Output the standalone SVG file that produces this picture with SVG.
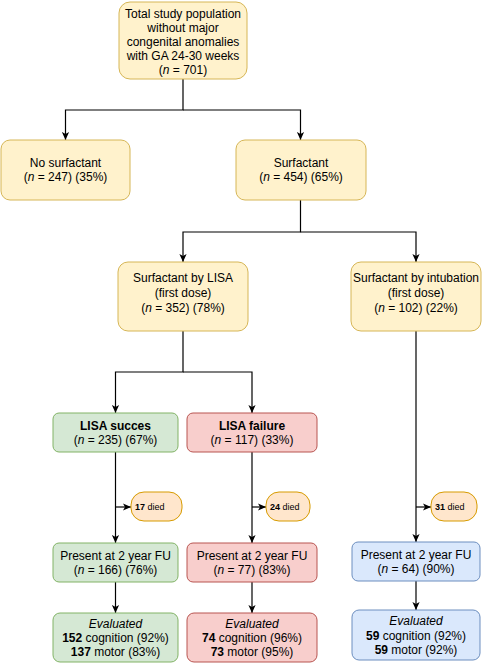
<svg xmlns="http://www.w3.org/2000/svg" width="482" height="670" viewBox="0 0 482 670">
<defs>
<style>
.y{fill:#fff2cc;stroke:#d6b656;stroke-width:1}
.g{fill:#d5e8d4;stroke:#82b366;stroke-width:1}
.r{fill:#f8cecc;stroke:#b85450;stroke-width:1}
.b{fill:#dae8fc;stroke:#6c8ebf;stroke-width:1}
.o{fill:#ffe6cc;stroke:#d79b00;stroke-width:1}
text{font-family:"Liberation Sans",Arial,Helvetica,sans-serif;font-size:12px;fill:#000;text-anchor:middle}
.s{font-size:9px;text-anchor:start}
.i{font-style:italic}
.bd{font-weight:bold}
.c{fill:none;stroke:#000;stroke-width:1.2}
</style>
<marker id="a" viewBox="0 0 10 10" refX="10" refY="5" markerWidth="8" markerHeight="8" orient="auto" markerUnits="userSpaceOnUse">
<path d="M0,0.5 L10,5 L0,9.5 L2.5,5 z" fill="#000"/>
</marker>
</defs>
<g id="connectors">
<path class="c" d="M183 79 V110 H65.5 V140" marker-end="url(#a)"/>
<path class="c" d="M183 110 H300.5 V140" marker-end="url(#a)"/>
<path class="c" d="M300.5 200 V232 H183 V262" marker-end="url(#a)"/>
<path class="c" d="M300.5 232 H416 V262" marker-end="url(#a)"/>
<path class="c" d="M183 331 V372 H115.5 V413" marker-end="url(#a)"/>
<path class="c" d="M183 372 H252 V413" marker-end="url(#a)"/>
<path class="c" d="M115.5 452 V543" marker-end="url(#a)"/>
<path class="c" d="M115.5 507 H131" marker-end="url(#a)"/>
<path class="c" d="M252 452 V543" marker-end="url(#a)"/>
<path class="c" d="M252 507 H266" marker-end="url(#a)"/>
<path class="c" d="M416 331 V542" marker-end="url(#a)"/>
<path class="c" d="M416 507 H431" marker-end="url(#a)"/>
<path class="c" d="M115.5 582 V613" marker-end="url(#a)"/>
<path class="c" d="M252 582 V613" marker-end="url(#a)"/>
<path class="c" d="M416 581 V610" marker-end="url(#a)"/>
</g>
<g id="total">
<rect class="y" x="119" y="2" width="128" height="77" rx="11"/>
<text x="183" y="17.5">Total study population</text>
<text x="183" y="31.5">without major</text>
<text x="183" y="45.5">congenital anomalies</text>
<text x="183" y="59.5">with GA 24-30 weeks</text>
<text x="183" y="73.5">(<tspan class="i">n</tspan> = 701)</text>
</g>
<g id="nosurf">
<rect class="y" x="1" y="140" width="129" height="60" rx="9"/>
<text x="65.5" y="167">No surfactant</text>
<text x="65.5" y="181">(<tspan class="i">n</tspan> = 247) (35%)</text>
</g>
<g id="surf">
<rect class="y" x="236" y="140" width="130" height="60" rx="9"/>
<text x="301" y="167">Surfactant</text>
<text x="301" y="181">(<tspan class="i">n</tspan> = 454) (65%)</text>
</g>
<g id="lisa">
<rect class="y" x="118" y="262" width="130" height="69" rx="10"/>
<text x="183" y="282">Surfactant by LISA</text>
<text x="183" y="297">(first dose)</text>
<text x="183" y="312">(<tspan class="i">n</tspan> = 352) (78%)</text>
</g>
<g id="intub">
<rect class="y" x="351" y="262" width="130" height="69" rx="10"/>
<text x="416" y="282">Surfactant by intubation</text>
<text x="416" y="297">(first dose)</text>
<text x="416" y="312">(<tspan class="i">n</tspan> = 102) (22%)</text>
</g>
<g id="lisasucc">
<rect class="g" x="53" y="413" width="125" height="39" rx="6"/>
<text x="115.5" y="429.5" class="bd">LISA succes</text>
<text x="115.5" y="444">(<tspan class="i">n</tspan> = 235) (67%)</text>
</g>
<g id="lisafail">
<rect class="r" x="187" y="413" width="130" height="39" rx="6"/>
<text x="252" y="429.5" class="bd">LISA failure</text>
<text x="252" y="444">(<tspan class="i">n</tspan> = 117) (33%)</text>
</g>
<g id="died17">
<rect class="o" x="131" y="492" width="51" height="29" rx="13"/>
<text x="135" y="510" class="s"><tspan class="bd">17</tspan> died</text>
</g>
<g id="died24">
<rect class="o" x="266" y="492" width="44" height="29" rx="13"/>
<text x="270" y="510" class="s"><tspan class="bd">24</tspan> died</text>
</g>
<g id="died31">
<rect class="o" x="431" y="492" width="46" height="29" rx="13"/>
<text x="435" y="510" class="s"><tspan class="bd">31</tspan> died</text>
</g>
<g id="presg">
<rect class="g" x="53" y="543" width="125" height="39" rx="6"/>
<text x="115.5" y="559.5">Present at 2 year FU</text>
<text x="115.5" y="574">(<tspan class="i">n</tspan> = 166) (76%)</text>
</g>
<g id="presr">
<rect class="r" x="187" y="543" width="130" height="39" rx="6"/>
<text x="252" y="559.5">Present at 2 year FU</text>
<text x="252" y="574">(<tspan class="i">n</tspan> = 77) (83%)</text>
</g>
<g id="presb">
<rect class="b" x="352" y="542" width="128" height="39" rx="6"/>
<text x="416" y="558.5">Present at 2 year FU</text>
<text x="416" y="573">(<tspan class="i">n</tspan> = 64) (90%)</text>
</g>
<g id="evalg">
<rect class="g" x="53" y="613" width="125" height="49" rx="7"/>
<text x="115.5" y="627.5" class="i">Evaluated</text>
<text x="115.5" y="642"><tspan class="bd">152</tspan> cognition (92%)</text>
<text x="115.5" y="656"><tspan class="bd">137</tspan> motor (83%)</text>
</g>
<g id="evalr">
<rect class="r" x="187" y="613" width="130" height="49" rx="7"/>
<text x="252" y="627.5" class="i">Evaluated</text>
<text x="252" y="642"><tspan class="bd">74</tspan> cognition (96%)</text>
<text x="252" y="656"><tspan class="bd">73</tspan> motor (95%)</text>
</g>
<g id="evalb">
<rect class="b" x="352" y="610" width="128" height="50" rx="7"/>
<text x="416" y="625" class="i">Evaluated</text>
<text x="416" y="639.5"><tspan class="bd">59</tspan> cognition (92%)</text>
<text x="416" y="653.5"><tspan class="bd">59</tspan> motor (92%)</text>
</g>
</svg>
